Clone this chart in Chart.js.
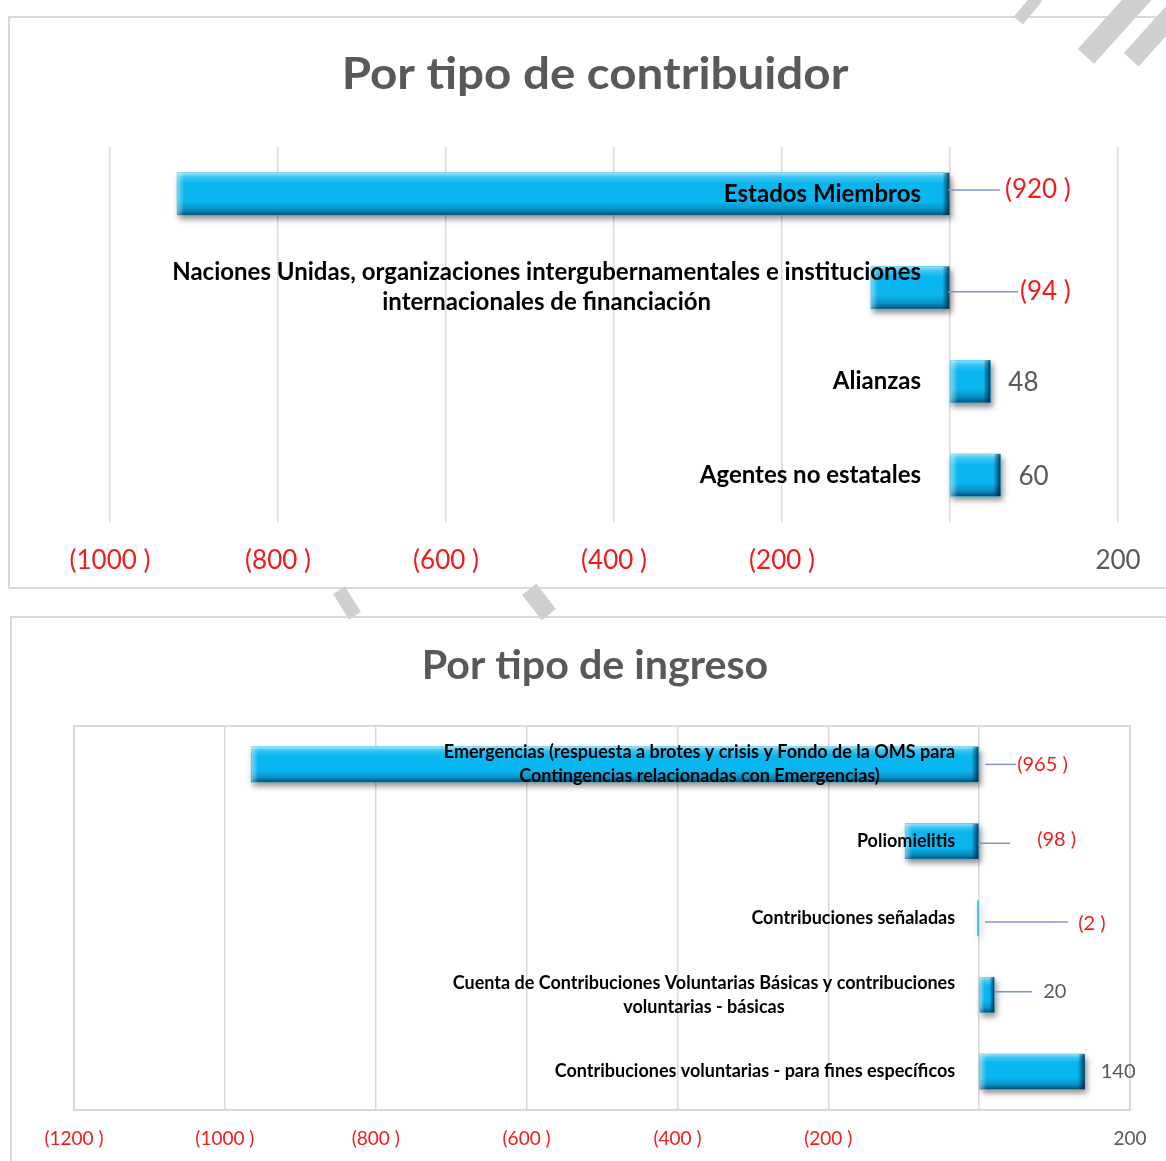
<!DOCTYPE html>
<html><head><meta charset="utf-8">
<script src="https://cdn.jsdelivr.net/npm/chart.js@4.4.1/dist/chart.umd.min.js"></script>
<style>
html,body{margin:0;padding:0;background:#fff;width:1166px;height:1161px;overflow:hidden;position:relative;font-family:Lato,sans-serif}
.box{position:absolute;border:2px solid #d9d9d9;background:#fff;box-sizing:border-box}
#box1{left:8px;top:16px;width:1170px;height:573px}
#box2{left:10px;top:616px;width:1170px;height:560px}
.wrap{position:absolute;left:0;width:1166px}
#wrap1{top:0;height:600px}
#wrap2{top:600px;height:561px}
canvas{display:block}
.wm{position:absolute;background:#cfcfcf;transform-origin:center center}
</style></head>
<body>
<div class="box" id="box1"></div><div class="box" id="box2"></div>
<div class="wrap" id="wrap1"><canvas id="c1" width="1166" height="600"></canvas></div>
<div class="wrap" id="wrap2"><canvas id="c2" width="1166" height="561"></canvas></div>
<div class="wm" style="left:1022px;top:-6px;width:12px;height:30px;transform:rotate(40deg)"></div>
<div class="wm" style="left:1105px;top:-22px;width:22px;height:90px;transform:rotate(42deg)"></div>
<div class="wm" style="left:1148px;top:-10px;width:20px;height:80px;transform:rotate(42deg)"></div>
<div class="wm" style="left:340px;top:588px;width:14px;height:30px;transform:rotate(-32deg)"></div>
<div class="wm" style="left:530px;top:586px;width:18px;height:32px;transform:rotate(-38deg)"></div>
<script>
// ---------- DATA ----------
const contributorTitle = 'Por tipo de contribuidor';
const contributorCategories = [
  'Estados Miembros',
  ['Naciones Unidas, organizaciones intergubernamentales e instituciones', 'internacionales de financiación'],
  'Alianzas',
  'Agentes no estatales'
];
const contributorValues = [-920, -94, 48, 60];
const contributorTickValues = [-1000, -800, -600, -400, -200, 0, 200];
const contributorTickLabels = ['(1000 )', '(800 )', '(600 )', '(400 )', '(200 )', '', '200'];

const incomeTitle = 'Por tipo de ingreso';
const incomeCategories = [
  ['Emergencias (respuesta a brotes y crisis y Fondo de la OMS para', 'Contingencias relacionadas con Emergencias)'],
  'Poliomielitis',
  'Contribuciones señaladas',
  ['Cuenta de Contribuciones Voluntarias Básicas y contribuciones', 'voluntarias - básicas'],
  'Contribuciones voluntarias - para fines específicos'
];
const incomeValues = [-965, -98, -2, 20, 140];
const incomeTickValues = [-1200, -1000, -800, -600, -400, -200, 0, 200];
const incomeTickLabels = ['(1200 )', '(1000 )', '(800 )', '(600 )', '(400 )', '(200 )', '', '200'];

// ---------- LAYOUT / STYLE (not data) ----------
const RED = '#f01c1c', GRAY = '#595959', FONT = 'Lato, "Open Sans", sans-serif';
const contributorLabelPlacement = [
  {anchor:'zero', dx:55, dy:-4, leader:[-2, 50], ldy:-4},
  {anchor:'zero', dx:70, dy:4, leader:[-2, 68], ldy:4},
  {anchor:'end', dx:18, dy:1},
  {anchor:'end', dx:18, dy:1}
];
const incomeLabelPlacement = [
  {anchor:'zero', dx:38, dy:0, leader:[6, 37], ldy:0},
  {anchor:'zero', dx:58, dy:-2, leader:[-1, 31], ldy:2},
  {anchor:'zero', dx:99, dy:6, leader:[6, 89], ldy:4},
  {anchor:'end', dx:49, dy:-3, leader:[1, 38], ldy:-3},
  {anchor:'end', dx:16, dy:0}
];

function fmt(v){ return v < 0 ? '(' + Math.abs(v) + ' )' : String(v); }

function makePlugin(cfg){
  return {
    id: 'custom',
    beforeDatasetsDraw(chart){
      const ctx = chart.ctx, a = chart.chartArea;
      if (cfg.frame){
        ctx.save(); ctx.strokeStyle = '#d9d9d9'; ctx.lineWidth = 2;
        ctx.strokeRect(a.left, a.top, a.right - a.left, a.bottom - a.top);
        ctx.restore();
      }
      ctx.save();
      ctx.shadowColor = 'rgba(0,0,0,0.45)'; ctx.shadowBlur = 6; ctx.shadowOffsetX = 2; ctx.shadowOffsetY = 4;
    },
    afterDatasetsDraw(chart){
      const ctx = chart.ctx;
      ctx.restore();
      const xs = chart.scales.x, ys = chart.scales.y;
      const zero = xs.getPixelForValue(0);
      const meta = chart.getDatasetMeta(0);
      meta.data.forEach(bar => {
        const p = bar.getProps(['x','y','base','height'], true);
        const l = Math.min(p.x, p.base), r = Math.max(p.x, p.base);
        const t = p.y - p.height/2, h = p.height, w = r - l;
        if (w < 3) return;
        let g = ctx.createLinearGradient(0, t, 0, t + h);
        g.addColorStop(0, 'rgba(255,255,255,0.6)');
        g.addColorStop(0.1, 'rgba(255,255,255,0.2)');
        g.addColorStop(0.25, 'rgba(255,255,255,0)');
        g.addColorStop(0.68, 'rgba(0,50,90,0)');
        g.addColorStop(0.88, 'rgba(0,50,90,0.3)');
        g.addColorStop(1, 'rgba(0,30,60,0.7)');
        ctx.fillStyle = g; ctx.fillRect(l, t, w, h);
        const ew = Math.min(7, w/3);
        g = ctx.createLinearGradient(r - ew, 0, r, 0);
        g.addColorStop(0, 'rgba(0,30,60,0)'); g.addColorStop(1, 'rgba(0,25,50,0.8)');
        ctx.fillStyle = g; ctx.fillRect(r - ew, t, ew, h);
        g = ctx.createLinearGradient(l, 0, l + ew, 0);
        g.addColorStop(0, 'rgba(255,255,255,0.45)'); g.addColorStop(1, 'rgba(255,255,255,0)');
        ctx.fillStyle = g; ctx.fillRect(l, t, ew, h);
      });
      ctx.save();
      ctx.font = 'bold ' + cfg.catSize + 'px ' + FONT;
      ctx.fillStyle = '#000'; ctx.textBaseline = 'middle'; ctx.textAlign = 'center';
      cfg.categories.forEach((lab, i) => {
        const lines = Array.isArray(lab) ? lab : [lab];
        const cy = ys.getPixelForValue(i);
        const maxW = Math.max(...lines.map(s => ctx.measureText(s).width));
        const cx = zero - cfg.catGap - maxW/2;
        lines.forEach((s, k) => ctx.fillText(s, cx, cy + (k - (lines.length - 1)/2) * cfg.catLine));
      });
      ctx.restore();
      ctx.save();
      ctx.font = cfg.valSize + 'px ' + FONT;
      ctx.textBaseline = 'middle'; ctx.textAlign = 'left';
      cfg.values.forEach((v, i) => {
        const pl = cfg.placement[i];
        const bar = meta.data[i].getProps(['x','y'], true);
        const anchor = pl.anchor === 'zero' ? zero : Math.max(bar.x, zero);
        const cy = ys.getPixelForValue(i);
        if (pl.leader){
          ctx.strokeStyle = '#7f93c6'; ctx.lineWidth = 1.5;
          ctx.beginPath();
          ctx.moveTo(anchor + pl.leader[0], cy + pl.ldy);
          ctx.lineTo(anchor + pl.leader[1], cy + pl.ldy);
          ctx.stroke();
        }
        ctx.fillStyle = v < 0 ? RED : GRAY;
        ctx.fillText(fmt(v), anchor + pl.dx, cy + pl.dy);
      });
      ctx.restore();
      ctx.save();
      ctx.font = 'bold ' + cfg.titleSize + 'px ' + FONT;
      ctx.fillStyle = GRAY; ctx.textAlign = 'center'; ctx.textBaseline = 'middle';
      ctx.translate(cfg.titleX, cfg.titleY);
      ctx.scale(cfg.titleStretch, 1);
      ctx.fillText(cfg.title, 0, 0);
      ctx.restore();
    }
  };
}

function makeChart(id, cfg){
  return new Chart(document.getElementById(id), {
    type: 'bar',
    data: {
      labels: cfg.categories,
      datasets: [{ data: cfg.values, backgroundColor: '#0ab6ef', borderWidth: 0, barThickness: cfg.barThickness }]
    },
    options: {
      indexAxis: 'y', responsive: false, animation: false, devicePixelRatio: 1,
      layout: { padding: cfg.padding },
      plugins: { legend: {display:false}, tooltip: {enabled:false}, title: {display:false} },
      scales: {
        y: { display: false },
        x: {
          type: 'linear', min: cfg.tickValues[0], max: cfg.tickValues[cfg.tickValues.length - 1],
          afterBuildTicks: s => { s.ticks = cfg.tickValues.map(v => ({value: v})); },
          afterFit: s => { s.height = cfg.axisHeight; },
          grid: { color: '#d9d9d9', lineWidth: 1.5, drawTicks: false },
          border: { display: false },
          ticks: {
            padding: cfg.tickPad,
            font: { family: FONT, size: cfg.tickSize },
            color: c => (c.tick && c.tick.value < 0) ? RED : GRAY,
            callback: (v, i) => cfg.tickLabels[i]
          }
        }
      }
    },
    plugins: [makePlugin(cfg)]
  });
}

makeChart('c1', {
  categories: contributorCategories, values: contributorValues,
  tickValues: contributorTickValues, tickLabels: contributorTickLabels,
  placement: contributorLabelPlacement,
  padding: {left: 110, right: 48, top: 147, bottom: 0}, axisHeight: 78,
  tickPad: 23, tickSize: 26, barThickness: 42,
  catSize: 24, catGap: 29, catLine: 30, valSize: 26,
  title: contributorTitle, titleSize: 44, titleStretch: 1.08, titleX: 595, titleY: 75, frame: false
});
makeChart('c2', {
  categories: incomeCategories, values: incomeValues,
  tickValues: incomeTickValues, tickLabels: incomeTickLabels,
  placement: incomeLabelPlacement,
  padding: {left: 74, right: 36, top: 126, bottom: 0}, axisHeight: 51,
  tickPad: 17, tickSize: 19, barThickness: 35,
  catSize: 18, catGap: 24, catLine: 24, valSize: 20,
  title: incomeTitle, titleSize: 40, titleStretch: 1.03, titleX: 595, titleY: 666 - 600, frame: true
});
</script>
</body></html>
